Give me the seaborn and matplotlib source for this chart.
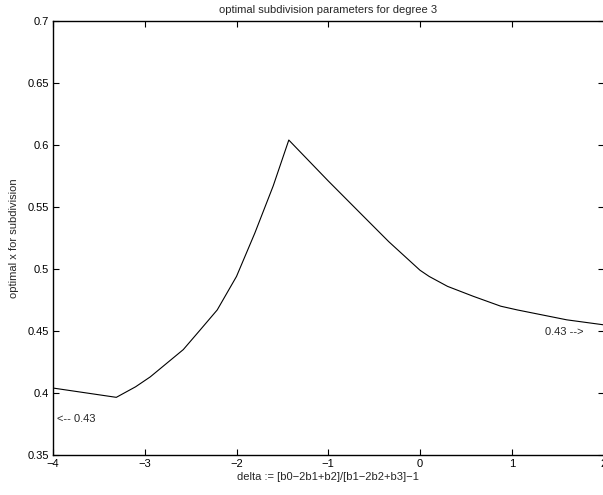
"""Optimal subdivision parameter for cubic Bezier curves, as a function of delta."""
import matplotlib
matplotlib.use("Agg")
import matplotlib.pyplot as plt
import pandas as pd
import seaborn as sns

# values
DELTA = [-4.0, -3.31, -3.1, -2.94, -2.58, -2.4, -2.21, -2.0, -1.8, -1.6, -1.43,
         -1.0, -0.63, -0.34, 0.0, 0.1, 0.3, 0.58, 0.88, 1.06, 1.6, 2.0]
OPTIMAL_X = [0.404, 0.3965, 0.405, 0.413, 0.435, 0.4505, 0.467, 0.494, 0.529, 0.567, 0.604,
             0.571, 0.5435, 0.522, 0.499, 0.494, 0.486, 0.478, 0.470, 0.467, 0.459, 0.455]

X_TICKS = [-4, -3, -2, -1, 0, 1, 2]
Y_TICKS = [0.35, 0.4, 0.45, 0.5, 0.55, 0.6, 0.65, 0.7]
Y_TICK_LABELS = ["0.35", "0.4", "0.45", "0.5", "0.55", "0.6", "0.65", "0.7"]


def plot():
    sns.set_theme(style="ticks")
    plt.rcParams["font.family"] = ["Liberation Sans", "DejaVu Sans"]
    plt.rcParams["font.size"] = 8
    plt.rcParams["axes.unicode_minus"] = True

    data = pd.DataFrame({"delta": DELTA, "x": OPTIMAL_X})

    fig = plt.figure(figsize=(6.03, 4.95), dpi=100)
    ax = fig.add_axes([53 / 603, 1 - 455 / 495, 550.5 / 603, (455 - 21) / 495])
    sns.lineplot(data=data, x="delta", y="x", estimator=None, sort=False,
                 color="black", linewidth=0.8, ax=ax)

    ax.set_xlim(-4, 2)
    ax.set_ylim(0.35, 0.7)
    ax.set_xticks(X_TICKS)
    ax.set_yticks(Y_TICKS)
    ax.set_yticklabels(Y_TICK_LABELS)
    ax.tick_params(direction="in", length=4, width=0.8, labelsize=8, pad=3,
                   top=True, right=True, colors="black")
    for spine in ax.spines.values():
        spine.set_visible(True)
        spine.set_linewidth(1.0)
        spine.set_color("black")

    ax.set_title("optimal subdivision parameters for degree 3", fontsize=8, pad=6)
    ax.set_xlabel("delta := [b0\u22122b1+b2]/[b1\u22122b2+b3]\u22121", fontsize=8, labelpad=2)
    ax.set_ylabel("optimal x for subdivision", fontsize=8, labelpad=6)

    ax.text(-3.96, 0.379, "<-- 0.43", fontsize=8, ha="left", va="center")
    ax.text(1.78, 0.449, "0.43 -->", fontsize=8, ha="right", va="center")

    fig.savefig("out.png", dpi=100)


if __name__ == "__main__":
    plot()
